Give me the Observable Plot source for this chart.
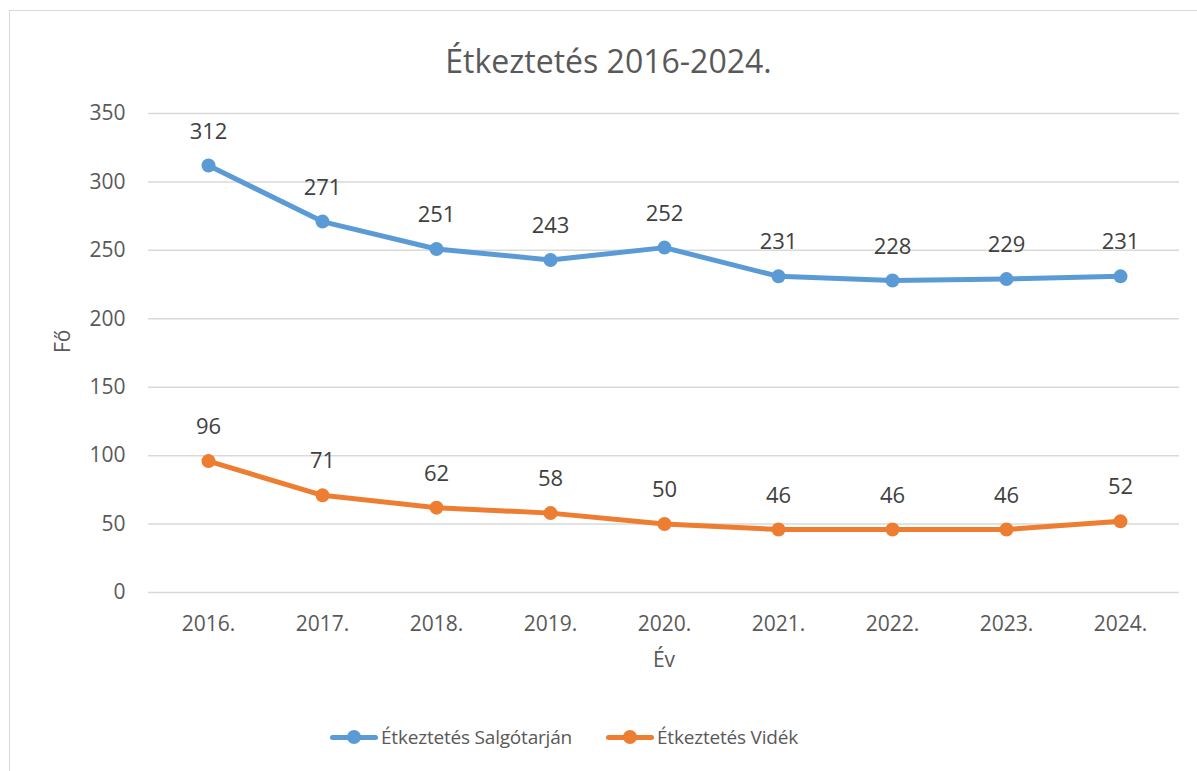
<!DOCTYPE html>
<html><head><meta charset="utf-8">
<script src="https://cdn.jsdelivr.net/npm/d3@7"></script>
<script src="https://cdn.jsdelivr.net/npm/@observablehq/plot@0.6"></script>
<style>
body{margin:0;background:#fff;font-family:"Open Sans",sans-serif;overflow:hidden;}
#frame{position:absolute;left:9px;top:10px;width:1200px;height:780px;border:1.5px solid #d9d9d9;box-sizing:border-box;}
#title{position:absolute;left:0;width:1217px;top:39px;line-height:44px;text-align:center;font-size:32px;color:#595959;}
#chart{position:absolute;left:0;top:90px;}
.leg{position:absolute;top:723px;font-size:19px;color:#595959;display:flex;align-items:center;letter-spacing:-0.2px;}
.sw{position:relative;width:48px;height:28px;margin-right:3px;}
.sw .l{position:absolute;left:0;right:0;top:11.5px;height:5px;border-radius:3px;}
.sw .d{position:absolute;left:17px;top:7px;width:14px;height:14px;border-radius:50%;}
</style></head>
<body>
<div id="frame"></div>
<div id="title">Étkeztetés 2016-2024.</div>
<div id="chart"></div>
<div class="leg" style="left:330px"><div class="sw"><div class="l" style="background:#5B9BD5"></div><div class="d" style="background:#5B9BD5"></div></div>Étkeztetés Salgótarján</div>
<div class="leg" style="left:606px"><div class="sw"><div class="l" style="background:#ED7D31"></div><div class="d" style="background:#ED7D31"></div></div>Étkeztetés Vidék</div>
<script>
const years = ["2016.","2017.","2018.","2019.","2020.","2021.","2022.","2023.","2024."];
const salgotarjan = [312,271,251,243,252,231,228,229,231];
const videk = [96,71,62,58,50,46,46,46,52];
const seriesNames = ["Étkeztetés Salgótarján","Étkeztetés Vidék"];
const colors = ["#5B9BD5","#ED7D31"];
const yTicks = [0,50,100,150,200,250,300,350];

const data = [];
years.forEach((y,i)=>{
  data.push({year:y, value:salgotarjan[i], series:seriesNames[0]});
  data.push({year:y, value:videk[i], series:seriesNames[1]});
});

const chart = Plot.plot({
  width: 1197,
  height: 610,
  marginLeft: 148,
  marginRight: 18,
  marginTop: 23,
  marginBottom: 108,
  style: {fontFamily: "'Open Sans', sans-serif", fontSize: "21px", background: "transparent", color: "#595959"},
  x: {type: "point", domain: years, padding: 0.5, label: null},
  y: {domain: [0,350], label: null},
  color: {domain: seriesNames, range: colors},
  marks: [
    Plot.gridY(yTicks, {stroke: "#d9d9d9", strokeOpacity: 1, strokeWidth: 1.5}),
    Plot.axisY(yTicks, {tickSize: 0, tickPadding: 23, fontSize: 21, fill: "#595959", label: null}),
    Plot.axisX({tickSize: 0, tickPadding: 24, fontSize: 21, fill: "#595959", label: null}),
    Plot.text(["Év"], {frameAnchor: "bottom", dy: 74, fontSize: 21, fill: "#595959"}),
    Plot.text(["Fő"], {frameAnchor: "left", dx: -85, rotate: -90, fontSize: 21, fill: "#595959"}),
    Plot.line(data, {x: "year", y: "value", z: "series", stroke: "series", strokeWidth: 5, strokeLinecap: "round", strokeLinejoin: "round"}),
    Plot.dot(data, {x: "year", y: "value", fill: "series", r: 7}),
    Plot.text(data, {x: "year", y: "value", text: "value", dy: -34, fontSize: 22, fill: "#404040"})
  ]
});
document.getElementById("chart").appendChild(chart);
</script>
</body></html>
